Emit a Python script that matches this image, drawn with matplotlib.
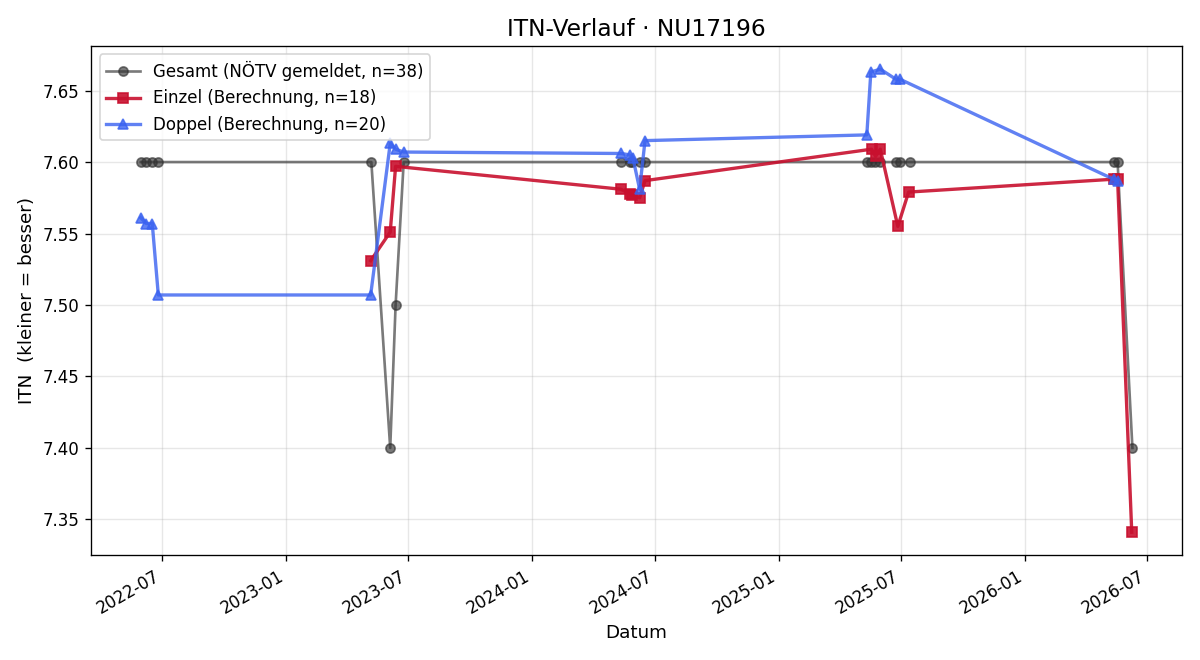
"""
ITN Verlauf NU17196
"""

import numpy as np
import matplotlib.pyplot as plt
import matplotlib.dates as mdates
import pandas as pd

# Gesamt (NÖTV gemeldet)
ges_dates = ["2022-05-30", "2022-06-07", "2022-06-16", "2022-06-25",
             "2023-05-07", "2023-06-04", "2023-06-12", "2023-06-24",
             "2024-05-12", "2024-05-24", "2024-05-27", "2024-06-08", "2024-06-16",
             "2025-05-11", "2025-05-17", "2025-05-23", "2025-05-31",
             "2025-06-23", "2025-06-29", "2025-07-14",
             "2026-05-12", "2026-05-18", "2026-06-09"]
ges_itn = [7.60, 7.60, 7.60, 7.60,
           7.60, 7.40, 7.50, 7.60,
           7.60, 7.60, 7.60, 7.60, 7.60,
           7.60, 7.60, 7.60, 7.60,
           7.60, 7.60, 7.60,
           7.60, 7.60, 7.40]

# Einzel (Berechnung)
ein_dates = ["2023-05-06", "2023-06-04", "2023-06-12",
             "2024-05-11", "2024-05-24", "2024-05-27", "2024-06-08", "2024-06-16",
             "2025-05-18", "2025-05-24", "2025-05-31", "2025-06-26", "2025-07-12",
             "2026-05-12", "2026-05-18", "2026-06-08"]
ein_itn = [7.531, 7.551, 7.597,
           7.581, 7.578, 7.577, 7.575, 7.587,
           7.609, 7.604, 7.609, 7.555, 7.579,
           7.588, 7.588, 7.341]

# Doppel (Berechnung)
dop_dates = ["2022-05-30", "2022-06-07", "2022-06-16", "2022-06-25",
             "2023-05-06", "2023-06-04", "2023-06-12", "2023-06-24",
             "2024-05-12", "2024-05-24", "2024-05-29", "2024-06-08", "2024-06-16",
             "2025-05-11", "2025-05-17", "2025-05-31", "2025-06-23", "2025-06-29",
             "2026-05-12", "2026-05-18"]
dop_itn = [7.561, 7.557, 7.557, 7.507,
           7.507, 7.613, 7.609, 7.607,
           7.606, 7.605, 7.603, 7.581, 7.615,
           7.619, 7.663, 7.665, 7.658, 7.658,
           7.588, 7.587]

fig, ax = plt.subplots(figsize=(10, 5.5), dpi=120)

ax.plot(pd.to_datetime(ges_dates), ges_itn, marker="o", color="#333333", alpha=0.65,
        linewidth=1.6, markersize=5.5, label="Gesamt (NÖTV gemeldet, n=38)")
ax.plot(pd.to_datetime(ein_dates), ein_itn, marker="s", color="#c8102e", alpha=0.9,
        linewidth=2, markersize=6.5, label="Einzel (Berechnung, n=18)")
ax.plot(pd.to_datetime(dop_dates), dop_itn, marker="^", color="#3a62f0", alpha=0.8,
        linewidth=2, markersize=6.5, label="Doppel (Berechnung, n=20)")

ax.set_title("ITN-Verlauf · NU17196", fontsize=14)
ax.set_xlabel("Datum", fontsize=11)
ax.set_ylabel("ITN  (kleiner = besser)", fontsize=11)
ax.xaxis.set_major_locator(mdates.MonthLocator(bymonth=[1, 7]))
ax.xaxis.set_major_formatter(mdates.DateFormatter("%Y-%m"))
ax.yaxis.set_major_formatter(plt.FormatStrFormatter("%.2f"))
ax.grid(True, alpha=0.3)
ax.legend(loc="upper left", fontsize=10)
fig.autofmt_xdate()

fig.tight_layout()
fig.savefig("out.png")
